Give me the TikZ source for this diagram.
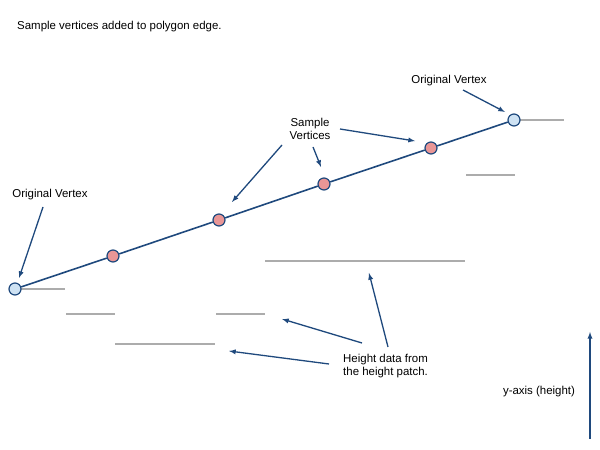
\documentclass[tikz,border=0pt]{standalone}
\usepackage{fontspec}
\setmainfont{Liberation Sans}
\definecolor{edgeblue}{RGB}{31,73,125}
\definecolor{origfill}{RGB}{206,226,243}
\definecolor{samplefill}{RGB}{233,150,150}
\definecolor{heightgray}{RGB}{172,172,172}
\tikzset{
  origvertex/.style={circle,draw=edgeblue,fill=origfill,line width=1.2bp,minimum size=12bp,inner sep=0pt},
  samplevertex/.style={circle,draw=edgeblue,fill=samplefill,line width=1.2bp,minimum size=12bp,inner sep=0pt},
  polyedge/.style={draw=edgeblue,line width=1.6bp},
  heightline/.style={draw=heightgray,line width=1.6bp},
  callout/.style={->,draw=edgeblue,line width=1.3bp},
  lbl/.style={inner sep=1pt,font=\fontsize{11.5}{12.5}\selectfont},
}
\begin{document}
\begin{tikzpicture}[>=latex,line join=bevel,]
    \useasboundingbox (0bp,0bp) rectangle (600bp,450bp);
    %% height patch data
    \draw [heightline] (15bp,161bp) -- (65bp,161bp);
    \draw [heightline] (66bp,136bp) -- (115bp,136bp);
    \draw [heightline] (115bp,106bp) -- (165bp,106bp);
    \draw [heightline] (165bp,106bp) -- (215bp,106bp);
    \draw [heightline] (216bp,136bp) -- (265bp,136bp);
    \draw [heightline] (265bp,189bp) -- (315bp,189bp);
    \draw [heightline] (315bp,189bp) -- (365bp,189bp);
    \draw [heightline] (365bp,189bp) -- (415bp,189bp);
    \draw [heightline] (415bp,189bp) -- (465bp,189bp);
    \draw [heightline] (466bp,275bp) -- (515bp,275bp);
    \draw [heightline] (514bp,330bp) -- (564bp,330bp);
    %% polygon edge
    \node (v0) at (15bp,161bp) [origvertex] {};
    \node (v1) at (113bp,194bp) [samplevertex] {};
    \node (v2) at (219bp,230bp) [samplevertex] {};
    \node (v3) at (324bp,266bp) [samplevertex] {};
    \node (v4) at (431bp,302bp) [samplevertex] {};
    \node (v5) at (514bp,330bp) [origvertex] {};
    \draw [polyedge] (v0) -- (v1);
    \draw [polyedge] (v1) -- (v2);
    \draw [polyedge] (v2) -- (v3);
    \draw [polyedge] (v3) -- (v4);
    \draw [polyedge] (v4) -- (v5);
    %% labels
    \node (title) at (16bp,423bp) [lbl,anchor=west] {Sample vertices added to polygon edge.};
    \node (origleft) at (50bp,255bp) [lbl] {Original Vertex};
    \node (origright) at (449bp,369bp) [lbl] {Original Vertex};
    \node (samples) at (310bp,321bp) [lbl,align=center] {Sample\\Vertices};
    \node (heightdata) at (342bp,84bp) [lbl,anchor=west,align=left] {Height data from\\the height patch.};
    \node (yaxis) at (539bp,58bp) [lbl] {y-axis (height)};
    %% arrow ends
    \coordinate (ol-a) at (43bp,243bp);
    \coordinate (ol-b) at (19bp,172bp);
    \coordinate (or-a) at (463bp,360bp);
    \coordinate (or-b) at (505bp,338bp);
    \coordinate (s1-a) at (282bp,305bp);
    \coordinate (s1-b) at (232bp,248bp);
    \coordinate (s2-a) at (313bp,303bp);
    \coordinate (s2-b) at (321bp,283bp);
    \coordinate (s3-a) at (340bp,321bp);
    \coordinate (s3-b) at (415bp,309bp);
    \coordinate (h1-a) at (388bp,103bp);
    \coordinate (h1-b) at (369bp,177bp);
    \coordinate (h2-a) at (362bp,107bp);
    \coordinate (h2-b) at (282bp,131bp);
    \coordinate (h3-a) at (329bp,86bp);
    \coordinate (h3-b) at (229bp,99bp);
    \coordinate (y-a) at (590bp,11bp);
    \coordinate (y-b) at (590bp,118bp);
    \draw [callout] (ol-a) -- (ol-b);
    \draw [callout] (or-a) -- (or-b);
    \draw [callout] (s1-a) -- (s1-b);
    \draw [callout] (s2-a) -- (s2-b);
    \draw [callout] (s3-a) -- (s3-b);
    \draw [callout] (h1-a) -- (h1-b);
    \draw [callout] (h2-a) -- (h2-b);
    \draw [callout] (h3-a) -- (h3-b);
    \draw [callout] (y-a) -- (y-b);
    %
\end{tikzpicture}
\end{document}
